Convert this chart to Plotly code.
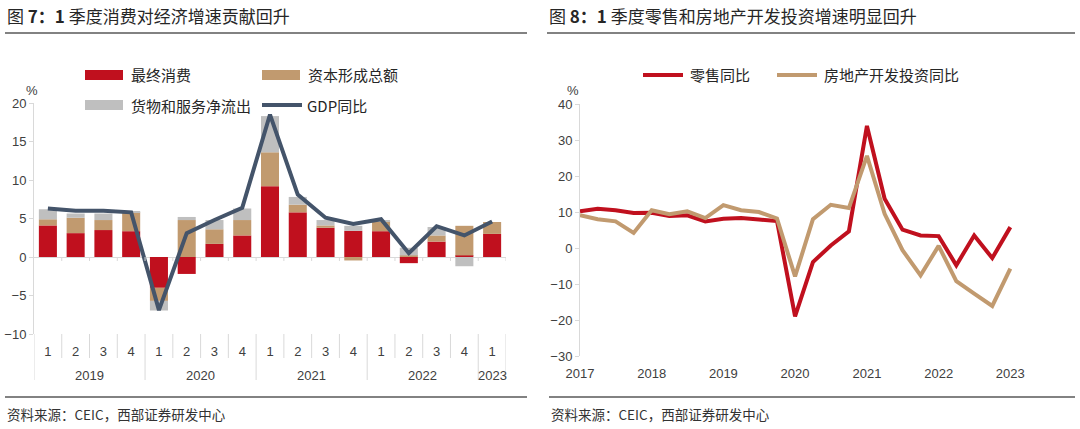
import plotly.graph_objects as go

# ---------------- data: left chart (contribution to GDP growth, %) ----------------
years_l = ["2019", "2019", "2019", "2019", "2020", "2020", "2020", "2020",
           "2021", "2021", "2021", "2021", "2022", "2022", "2022", "2022", "2023"]
quarters_l = ["1", "2", "3", "4", "1", "2", "3", "4",
              "1", "2", "3", "4", "1", "2", "3", "4", "1"]
consumption = [4.1, 3.1, 3.5, 3.35, -4.0, -2.2, 1.7, 2.8, 9.2, 5.8, 3.8, 3.4, 3.35, -0.8, 2.0, 0.2, 3.0]
capital = [0.8, 2.0, 1.3, 2.45, -1.7, 4.8, 1.9, 2.0, 4.4, 1.0, 0.3, -0.45, 1.3, 0.2, 0.8, 3.85, 1.55]
net_exports = [1.3, 0.55, 0.85, 0.05, -1.25, 0.4, 1.2, 1.5, 4.7, 1.0, 0.7, 0.65, 0.1, 1.0, 1.1, -1.2, 0.0]
gdp = [6.3, 6.0, 6.0, 5.8, -6.9, 3.1, 4.8, 6.4, 18.5, 8.1, 5.1, 4.3, 4.9, 0.5, 4.0, 2.8, 4.6]

# ---------------- data: right chart (YoY, %) ----------------
dates_r = ["2017-01-01", "2017-04-01", "2017-07-01", "2017-10-01",
           "2018-01-01", "2018-04-01", "2018-07-01", "2018-10-01",
           "2019-01-01", "2019-04-01", "2019-07-01", "2019-10-01",
           "2020-01-01", "2020-04-01", "2020-07-01", "2020-10-01",
           "2021-01-01", "2021-04-01", "2021-07-01", "2021-10-01",
           "2022-01-01", "2022-04-01", "2022-07-01", "2022-10-01",
           "2023-01-01"]
retail = [10.2, 10.9, 10.5, 9.7, 9.8, 8.9, 9.1, 7.4, 8.1, 8.3, 7.9, 7.5,
          -19.0, -3.9, 0.7, 4.6, 33.9, 13.7, 5.1, 3.5, 3.3, -4.8, 3.5, -2.8, 5.8]
real_estate = [9.1, 8.0, 7.4, 4.2, 10.5, 9.4, 10.2, 8.3, 11.9, 10.5, 10.0, 8.2,
               -7.9, 8.0, 12.0, 11.1, 25.6, 9.5, -0.6, -7.6, 0.6, -9.2, -12.7, -16.1, -5.7]

RED = "#C0101E"
TAN = "#C19A6F"
GREY = "#BFBFBF"
SLATE = "#44546A"
AXIS = "#D9D9D9"
TXT = "#404040"
CJK = "Noto Sans CJK SC"
LATIN = "Arial, 'Liberation Sans', sans-serif"
FIG_W, FIG_H = 1080, 429


def px_x(p):
    return p / FIG_W


def px_y(p):
    return 1 - p / FIG_H


fig = go.Figure()

cat_ids = [f"{y}Q{q}" for y, q in zip(years_l, quarters_l)]
fig.add_trace(go.Bar(x=cat_ids, y=consumption, name="最终消费", marker_color=RED,
                     marker_line_width=0, xaxis="x", yaxis="y", showlegend=False))
fig.add_trace(go.Bar(x=cat_ids, y=capital, name="资本形成总额", marker_color=TAN,
                     marker_line_width=0, xaxis="x", yaxis="y", showlegend=False))
fig.add_trace(go.Bar(x=cat_ids, y=net_exports, name="货物和服务净流出", marker_color=GREY,
                     marker_line_width=0, xaxis="x", yaxis="y", showlegend=False))
fig.add_trace(go.Scatter(x=cat_ids, y=gdp, name="GDP同比", mode="lines",
                         line=dict(color=SLATE, width=4), xaxis="x", yaxis="y", showlegend=False))

fig.add_trace(go.Scatter(x=dates_r, y=retail, name="零售同比", mode="lines",
                         line=dict(color=RED, width=4), xaxis="x2", yaxis="y2", showlegend=False))
fig.add_trace(go.Scatter(x=dates_r, y=real_estate, name="房地产开发投资同比", mode="lines",
                         line=dict(color=TAN, width=4), xaxis="x2", yaxis="y2", showlegend=False))

# domains
lx = [px_x(34), px_x(506)]
ly = [px_y(334), px_y(103)]
rx = [px_x(580), px_x(1028)]
ry = [px_y(356), px_y(104)]
lrange = [-10, 20]
rrange = [-30, 40]
r_zero = ry[0] + (0 - rrange[0]) / (rrange[1] - rrange[0]) * (ry[1] - ry[0])

tickfont = dict(size=13, color=TXT, family=LATIN)

fig.update_layout(
    width=FIG_W, height=FIG_H,
    margin=dict(l=0, r=0, t=0, b=0, autoexpand=False),
    paper_bgcolor="white", plot_bgcolor="white",
    barmode="relative", bargap=0.35,
    font=dict(family="Arial, 'Liberation Sans', 'Noto Sans CJK SC', sans-serif", color=TXT),
    xaxis=dict(domain=lx, anchor="y", type="category", range=[-0.5, len(cat_ids) - 0.5],
               tickvals=cat_ids, ticktext=quarters_l, ticks="", showline=False,
               showgrid=False, zeroline=False, tickfont=tickfont, ticklabelstandoff=8,
               automargin=False),
    yaxis=dict(domain=ly, anchor="x", range=lrange, dtick=5, showline=True, linecolor=AXIS,
               ticks="outside", ticklen=4, tickcolor=AXIS, showgrid=False, zeroline=True,
               zerolinecolor=AXIS, zerolinewidth=1, tickfont=tickfont, automargin=False),
    xaxis2=dict(domain=rx, anchor="y2", type="date", range=["2017-01-01", "2023-04-01"],
                dtick="M12", tick0="2017-01-01", tickformat="%Y", ticks="", showline=False,
                showgrid=False, zeroline=False, tickfont=tickfont, ticklabelstandoff=8,
                automargin=False),
    yaxis2=dict(domain=ry, anchor="x2", range=rrange, dtick=10, showline=True, linecolor=AXIS,
                ticks="outside", ticklen=4, tickcolor=AXIS, showgrid=False, zeroline=False,
                tickfont=tickfont, automargin=False),
    xaxis5=dict(overlaying="x2", anchor="free", position=r_zero, type="date",
                range=["2017-01-01", "2023-04-01"], dtick="M12", tick0="2017-01-01",
                ticks="outside", ticklen=4, tickcolor=AXIS, showticklabels=False,
                showgrid=False, zeroline=False, showline=True, linecolor=AXIS,
                automargin=False),
)

shapes = []
annotations = []


def rule(x0, x1, y):
    shapes.append(dict(type="line", xref="paper", yref="paper", x0=px_x(x0), x1=px_x(x1),
                       y0=px_y(y), y1=px_y(y), line=dict(color="#595959", width=1.5)))


def swatch_rect(x0, x1, yc, color, h=10):
    shapes.append(dict(type="rect", xref="paper", yref="paper", x0=px_x(x0), x1=px_x(x1),
                       y0=px_y(yc + h / 2), y1=px_y(yc - h / 2), fillcolor=color,
                       line=dict(width=0)))


def swatch_line(x0, x1, yc, color):
    shapes.append(dict(type="line", xref="paper", yref="paper", x0=px_x(x0), x1=px_x(x1),
                       y0=px_y(yc), y1=px_y(yc), line=dict(color=color, width=4)))


def label(x, y, text, size=15, family=CJK, color="#262626", xanchor="left", xref="paper"):
    annotations.append(dict(x=x if xref != "paper" else px_x(x), y=px_y(y), xref=xref,
                            yref="paper", text=text, showarrow=False, xanchor=xanchor,
                            yanchor="middle", font=dict(size=size, family=family, color=color)))


# category-axis dividers (left chart): short ones between quarters, long ones between years
n = len(cat_ids)
zero_frac = ly[0] + (0 - lrange[0]) / (lrange[1] - lrange[0]) * (ly[1] - ly[0])
for i in range(n + 1):
    year_edge = i == 0 or i == n or years_l[i] != years_l[i - 1]
    bottom = 380 if year_edge else 358
    shapes.append(dict(type="line", xref="x", yref="paper", x0=i - 0.5, x1=i - 0.5,
                       y0=px_y(334), y1=px_y(bottom), line=dict(color=AXIS, width=1)))
    if 0 < i <= n:
        shapes.append(dict(type="line", xref="x", yref="paper", x0=i - 0.5, x1=i - 0.5,
                           y0=zero_frac, y1=zero_frac - 4 / FIG_H,
                           line=dict(color=AXIS, width=1)))

# year labels centred under their quarters
for yr in dict.fromkeys(years_l):
    idx = [i for i, y in enumerate(years_l) if y == yr]
    label((idx[0] + idx[-1]) / 2, 375, yr, size=13, family=LATIN, color=TXT,
          xanchor="center", xref="x")

# header / footer rules
rule(5, 527, 33)
rule(547, 1075, 33)
rule(5, 527, 397)
rule(549, 1075, 397)

# titles
label(5, 16, "图 <b>7：1</b> 季度消费对经济增速贡献回升", size=17)
label(547, 16, "图 <b>8：1</b> 季度零售和房地产开发投资增速明显回升", size=17)

# sources
label(5, 414, "资料来源：CEIC，西部证券研发中心", size=13.5, color="#333333")
label(549, 414, "资料来源：CEIC，西部证券研发中心", size=13.5, color="#333333")

# unit labels
label(32, 90, "%", size=13, family=LATIN, color=TXT, xanchor="center")
label(573, 90, "%", size=13, family=LATIN, color=TXT, xanchor="center")

# left legend
swatch_rect(85, 123, 75, RED)
label(129, 75, "最终消费")
swatch_rect(262, 300, 75, TAN)
label(306, 75, "资本形成总额")
swatch_rect(85, 123, 105, GREY)
label(129, 105, "货物和服务净流出")
swatch_line(262, 302, 105, SLATE)
label(305, 105, "GDP同比")

# right legend
swatch_line(643, 683, 75, RED)
label(688, 75, "零售同比")
swatch_line(777, 817, 75, TAN)
label(822, 75, "房地产开发投资同比")

fig.update_layout(shapes=shapes, annotations=annotations)

fig.write_html("out.html", config={"displayModeBar": False},
               post_script="document.body.style.margin='0';document.body.style.padding='0';"
                           "document.documentElement.style.overflow='hidden';")
